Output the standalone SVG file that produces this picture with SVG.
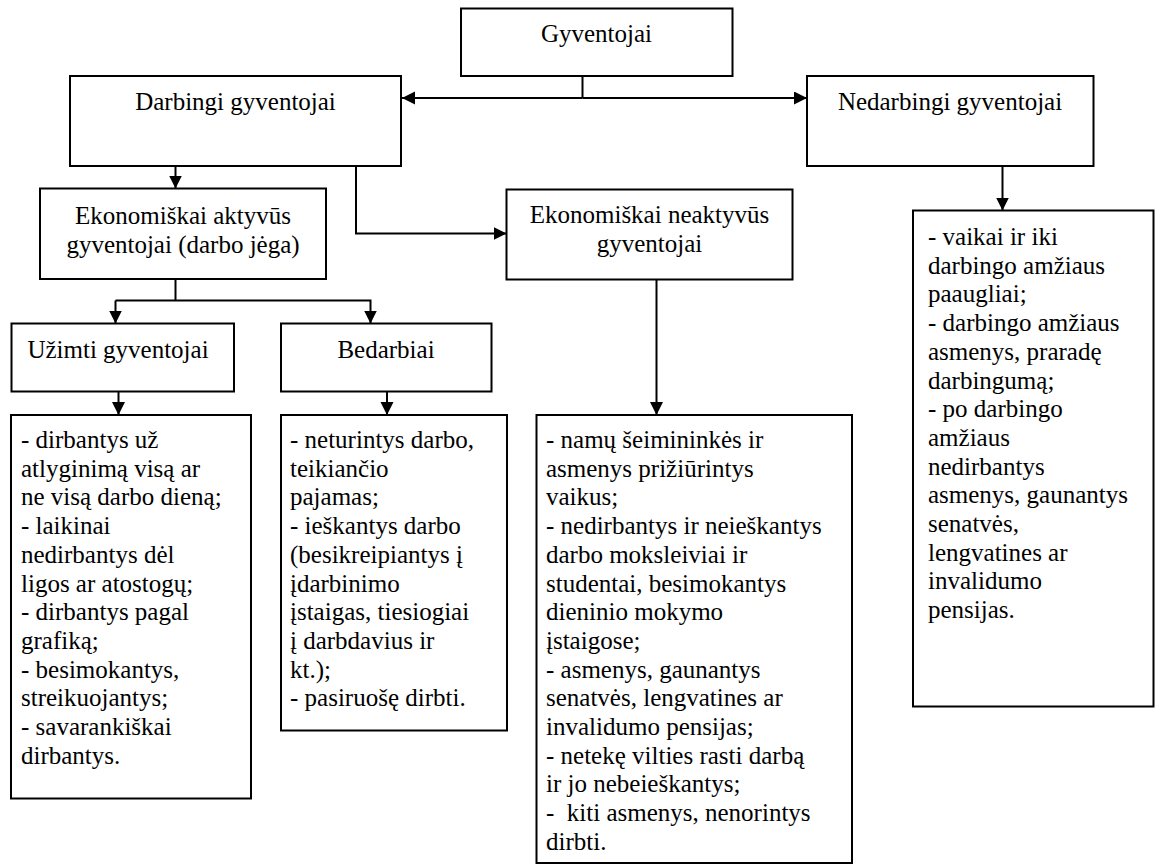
<svg xmlns="http://www.w3.org/2000/svg" width="1156" height="865" viewBox="0 0 1156 865">
  <style>
    .box { fill: #ffffff; stroke: #000000; stroke-width: 2; }
    .ln { fill: none; stroke: #000000; stroke-width: 2; }
    .c { text-anchor: middle; }
    .pre { white-space: pre; }
  </style>
  <defs>
    <marker id="ah" markerWidth="14" markerHeight="14" refX="13" refY="6.5" orient="auto" markerUnits="userSpaceOnUse">
      <path d="M0,0 L13,6.5 L0,13 z" fill="#000000"/>
    </marker>
  </defs>

  <rect x="0" y="0" width="1156" height="865" fill="#ffffff"/>

  <!-- connectors -->
  <g id="connectors">
    <path class="ln" d="M582.5,76 V98"/>
    <path class="ln" d="M582.5,98 H402" marker-end="url(#ah)"/>
    <path class="ln" d="M582.5,98 H807" marker-end="url(#ah)"/>
    <path class="ln" d="M175.5,166 V188.5" marker-end="url(#ah)"/>
    <path class="ln" d="M356,166 V233.5 H506.5" marker-end="url(#ah)"/>
    <path class="ln" d="M175.5,279 V300.5"/>
    <path class="ln" d="M115.5,300.5 H370.5 V323.5" marker-end="url(#ah)"/>
    <path class="ln" d="M115.5,300.5 V323.5" marker-end="url(#ah)"/>
    <path class="ln" d="M118.5,391.5 V415" marker-end="url(#ah)"/>
    <path class="ln" d="M387,391.5 V415" marker-end="url(#ah)"/>
    <path class="ln" d="M656.5,279.5 V415" marker-end="url(#ah)"/>
    <path class="ln" d="M1002.5,166 V210.5" marker-end="url(#ah)"/>
  </g>

  <g font-family="Liberation Serif" font-size="25" fill="#000000">
    <!-- top level -->
    <g id="gyventojai">
      <rect class="box" x="461" y="8.5" width="271.5" height="67.5"/>
      <text class="c" x="596.5" y="42">Gyventojai</text>
    </g>

    <g id="darbingi">
      <rect class="box" x="70" y="76" width="331" height="90"/>
      <text class="c" x="235.5" y="110">Darbingi gyventojai</text>
    </g>

    <g id="nedarbingi">
      <rect class="box" x="807" y="76" width="286.5" height="90"/>
      <text class="c" x="950" y="110">Nedarbingi gyventojai</text>
    </g>

    <!-- second level -->
    <g id="aktyvus">
      <rect class="box" x="40" y="188.5" width="286" height="90.5"/>
      <text class="c" x="183" y="224">Ekonomiškai aktyvūs<tspan x="183" dy="28.7">gyventojai (darbo jėga)</tspan></text>
    </g>

    <g id="neaktyvus">
      <rect class="box" x="506.5" y="189.5" width="286" height="90"/>
      <text class="c" x="649.5" y="223">Ekonomiškai neaktyvūs<tspan x="649.5" dy="28.7">gyventojai</tspan></text>
    </g>

    <g id="uzimti">
      <rect class="box" x="11.5" y="323.5" width="222.5" height="68"/>
      <text class="c" x="118" y="358">Užimti gyventojai</text>
    </g>

    <g id="bedarbiai">
      <rect class="box" x="281" y="323.5" width="210.5" height="68"/>
      <text class="c" x="386" y="358">Bedarbiai</text>
    </g>

    <!-- detail lists -->
    <g id="uzimti-sarasas">
      <rect class="box" x="11" y="415" width="240" height="383.5"/>
      <text x="21" y="448">- dirbantys už<tspan x="21" dy="28.7">atlyginimą visą ar</tspan><tspan x="21" dy="28.7">ne visą darbo dieną;</tspan><tspan x="21" dy="28.7">- laikinai</tspan><tspan x="21" dy="28.7">nedirbantys dėl</tspan><tspan x="21" dy="28.7">ligos ar atostogų;</tspan><tspan x="21" dy="28.7">- dirbantys pagal</tspan><tspan x="21" dy="28.7">grafiką;</tspan><tspan x="21" dy="28.7">- besimokantys,</tspan><tspan x="21" dy="28.7">streikuojantys;</tspan><tspan x="21" dy="28.7">- savarankiškai</tspan><tspan x="21" dy="28.7">dirbantys.</tspan></text>
    </g>

    <g id="bedarbiai-sarasas">
      <rect class="box" x="281" y="415" width="226" height="315.5"/>
      <text x="290" y="448">- neturintys darbo,<tspan x="290" dy="28.7">teikiančio</tspan><tspan x="290" dy="28.7">pajamas;</tspan><tspan x="290" dy="28.7">- ieškantys darbo</tspan><tspan x="290" dy="28.7">(besikreipiantys į</tspan><tspan x="290" dy="28.7">įdarbinimo</tspan><tspan x="290" dy="28.7">įstaigas, tiesiogiai</tspan><tspan x="290" dy="28.7">į darbdavius ir</tspan><tspan x="290" dy="28.7">kt.);</tspan><tspan x="290" dy="28.7">- pasiruošę dirbti.</tspan></text>
    </g>

    <g id="neaktyvus-sarasas">
      <rect class="box" x="536.5" y="415" width="315.5" height="448"/>
      <text class="pre" x="546" y="448">- namų šeimininkės ir<tspan x="546" dy="28.7">asmenys prižiūrintys</tspan><tspan x="546" dy="28.7">vaikus;</tspan><tspan x="546" dy="28.7">- nedirbantys ir neieškantys</tspan><tspan x="546" dy="28.7">darbo moksleiviai ir</tspan><tspan x="546" dy="28.7">studentai, besimokantys</tspan><tspan x="546" dy="28.7">dieninio mokymo</tspan><tspan x="546" dy="28.7">įstaigose;</tspan><tspan x="546" dy="28.7">- asmenys, gaunantys</tspan><tspan x="546" dy="28.7">senatvės, lengvatines ar</tspan><tspan x="546" dy="28.7">invalidumo pensijas;</tspan><tspan x="546" dy="28.7">- netekę vilties rasti darbą</tspan><tspan x="546" dy="28.7">ir jo nebeieškantys;</tspan><tspan x="546" dy="28.7">-  kiti asmenys, nenorintys</tspan><tspan x="546" dy="28.7">dirbti.</tspan></text>
    </g>

    <g id="nedarbingi-sarasas">
      <rect class="box" x="913" y="210.5" width="240.5" height="496"/>
      <text x="928" y="245">- vaikai ir iki<tspan x="928" dy="28.7">darbingo amžiaus</tspan><tspan x="928" dy="28.7">paaugliai;</tspan><tspan x="928" dy="28.7">- darbingo amžiaus</tspan><tspan x="928" dy="28.7">asmenys, praradę</tspan><tspan x="928" dy="28.7">darbingumą;</tspan><tspan x="928" dy="28.7">- po darbingo</tspan><tspan x="928" dy="28.7">amžiaus</tspan><tspan x="928" dy="28.7">nedirbantys</tspan><tspan x="928" dy="28.7">asmenys, gaunantys</tspan><tspan x="928" dy="28.7">senatvės,</tspan><tspan x="928" dy="28.7">lengvatines ar</tspan><tspan x="928" dy="28.7">invalidumo</tspan><tspan x="928" dy="28.7">pensijas.</tspan></text>
    </g>
  </g>
</svg>
